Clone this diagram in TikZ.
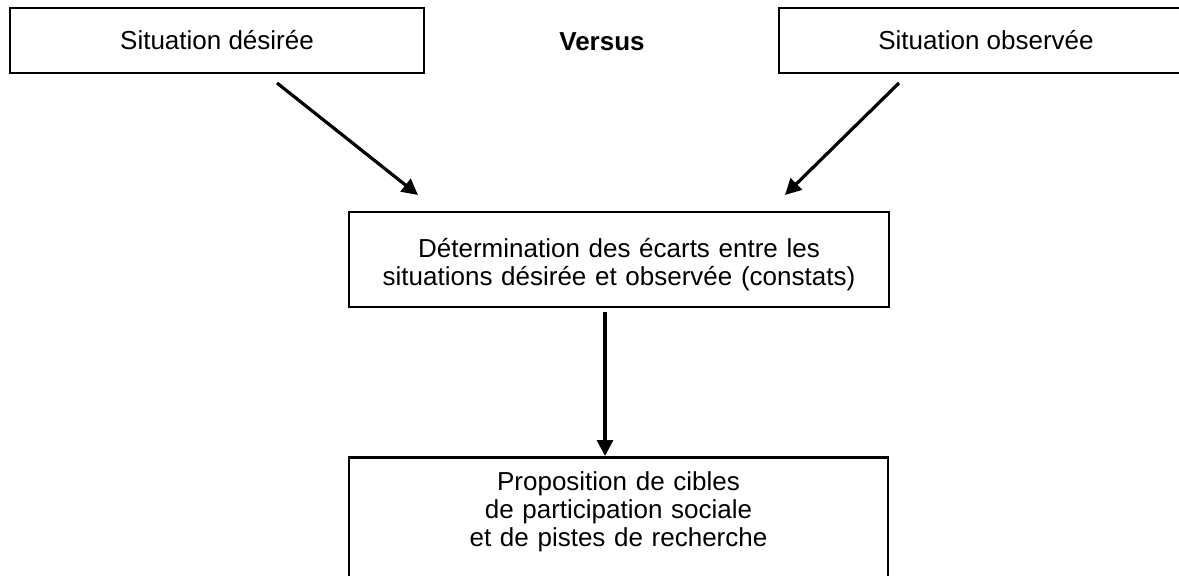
\documentclass[tikz,border=0pt]{standalone}
\usepackage{fontspec}
\setmainfont{Liberation Sans}
\usepackage{tikz}
\usetikzlibrary{arrows.meta}

\tikzset{
  box/.style={draw,line width=1.4pt,align=center,inner sep=0pt,
    font=\fontsize{13pt}{14pt}\selectfont},
  arr/.style={-{Triangle[length=8pt,width=8pt]},line width=1.6pt}
}

\begin{document}
\begin{tikzpicture}[x=0.5pt,y=-0.5pt]
    \clip (0,0) rectangle (1179,575);
    \fill[white] (0,0) rectangle (1179,575);

    \node[box,minimum width=207pt,minimum height=32.5pt] (desiree) at (217,40.5) {Situation désirée};
    \node[box,minimum width=207pt,minimum height=32.5pt] (observee) at (986,40.5) {Situation observée};
    \node[font=\fontsize{13pt}{14pt}\selectfont\bfseries] (versus) at (602,42) {Versus};
    \node[box,text width=270pt,minimum height=47.5pt] (ecarts) at (619,259.5)
      {\rule{0pt}{15pt}Détermination des écarts entre les\\situations désirée et observée (constats)};
    \node[box,text width=269.5pt,anchor=north,inner ysep=7pt,text depth=40pt] (cibles) at (618.5,456)
      {Proposition de cibles\\de participation sociale\\et de pistes de recherche};

    \coordinate (d1) at (277,83);
    \coordinate (d2) at (418,195);
    \coordinate (o1) at (899,83);
    \coordinate (o2) at (785,195);
    \coordinate (e1) at (605,312);

    \path
    (d1) [arr] edge (d2)
    (o1) [arr] edge (o2)
    (e1) [arr] edge (e1 |- cibles.north);

  \end{tikzpicture}
\end{document}
